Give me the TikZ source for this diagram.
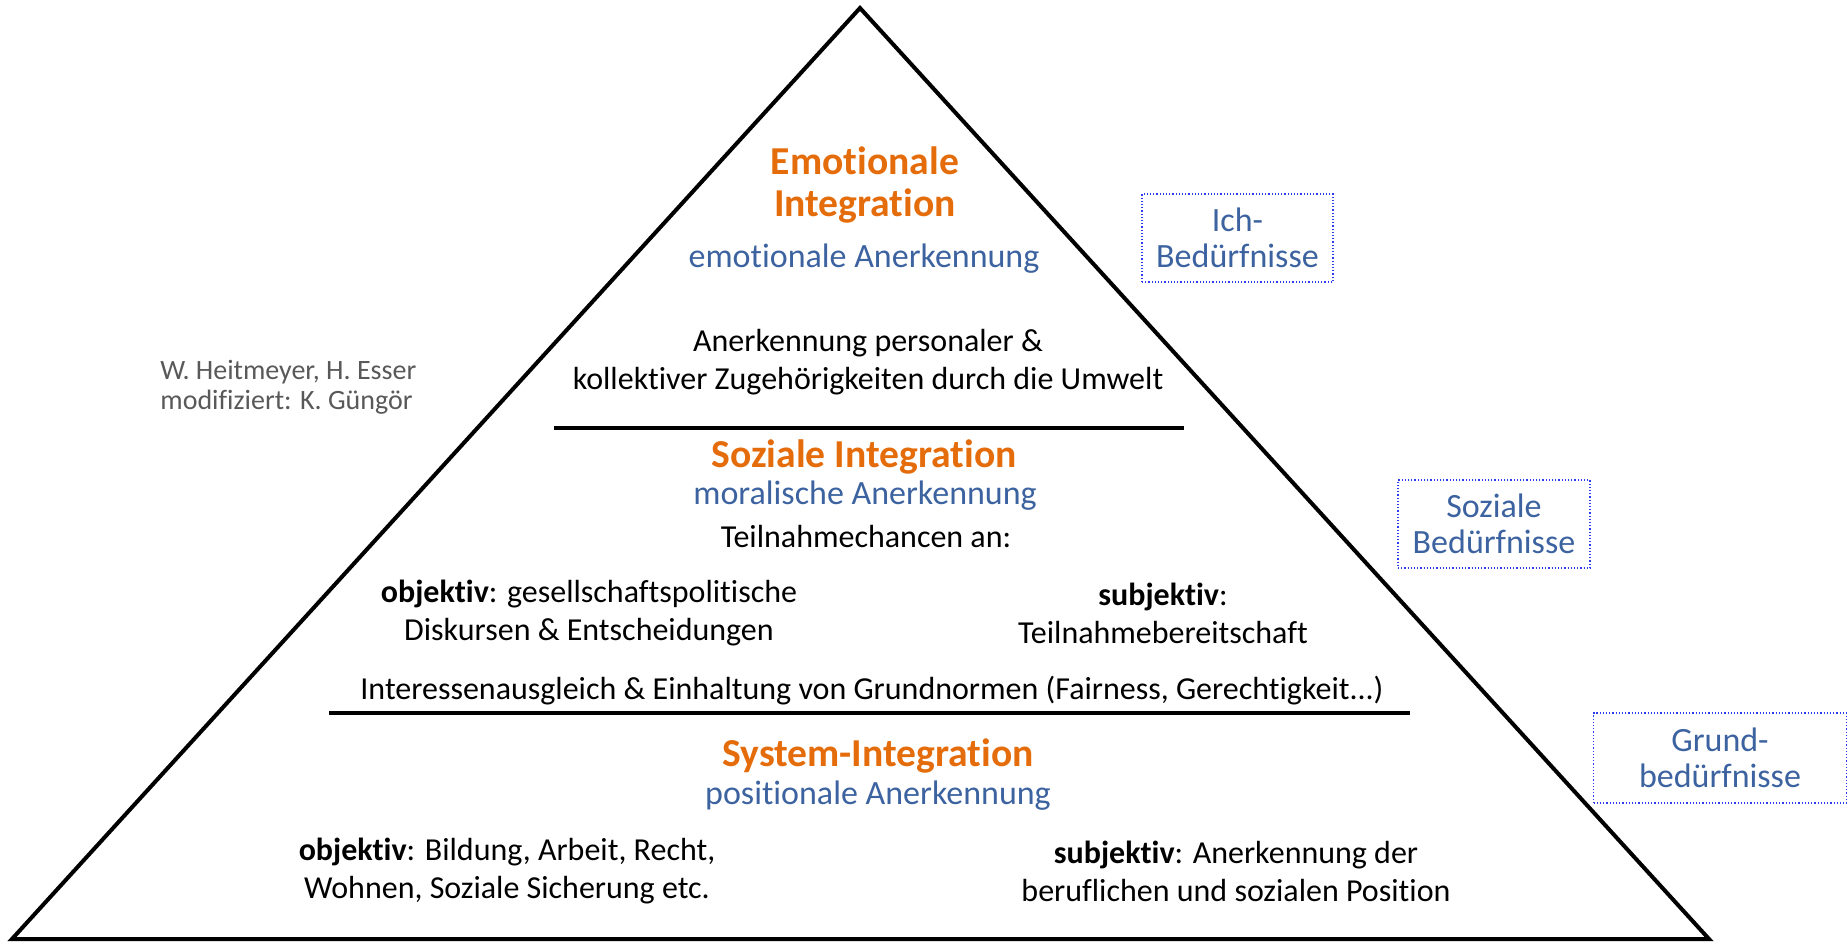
\documentclass[tikz,border=0pt]{standalone}
\usepackage{fontspec}
\setmainfont{Carlito}[Ligatures={NoCommon}]
\definecolor{titleorange}{HTML}{E46C0A}
\definecolor{subblue}{HTML}{3C63A0}
\definecolor{creditgray}{HTML}{595959}
\definecolor{boxblue}{HTML}{2B3BF0}
\begin{document}
\begin{tikzpicture}[x=0.5pt,y=-0.5pt,
  title/.style={font=\fontsize{19.8}{21.2}\selectfont\bfseries, text=titleorange, align=center, inner sep=0pt},
  subtitle/.style={font=\fontsize{17}{19}\selectfont, text=subblue, align=center, inner sep=0pt},
  body/.style={font=\fontsize{16}{18.9}\selectfont, text=black, align=center, inner sep=0pt},
  credit/.style={font=\fontsize{14}{14.8}\selectfont, text=creditgray, align=left, inner sep=0pt},
  needbox/.style={draw=boxblue, densely dotted, line width=0.6pt, text=subblue,
    font=\fontsize{17}{17.7}\selectfont, align=center, inner sep=0pt},
  divider/.style={line width=2.4pt},
  pyramid/.style={line width=2pt, line join=miter}]
\useasboundingbox (0,0) rectangle (1848,944);

% pyramid outline
\coordinate (apex) at (860,8);
\coordinate (bl) at (12,939);
\coordinate (br) at (1709,939);
\draw[pyramid] (apex) -- (br) -- (bl) -- cycle;

% level dividers
\coordinate (d1a) at (554,428);
\coordinate (d1b) at (1184,428);
\coordinate (d2a) at (329,713);
\coordinate (d2b) at (1410,713);
\draw[divider] (d1a) -- (d1b);
\draw[divider] (d2a) -- (d2b);

% top level
\node[title] (emo) at (865,185) {Emotionale\\Integration};
\node[subtitle] (emoA) at (864,259) {emotionale Anerkennung};
\node[body] (emoT) at (868,362) {Anerkennung personaler \&\\kollektiver Zugehörigkeiten durch die Umwelt};

% middle level
\node[title] (soz) at (864,457) {Soziale Integration};
\node[subtitle] (sozA) at (865,496) {moralische Anerkennung};
\node[body] (sozT) at (866,537) {Teilnahmechancen an:};
\node[body] (sozO) at (589,613) {\textbf{objektiv}: gesellschaftspolitische\\Diskursen \& Entscheidungen};
\node[body] (sozS) at (1163,613) {\textbf{subjektiv}:\\Teilnahmebereitschaft};
\node[body] (sozI) at (872,691) {Interessenausgleich \& Einhaltung von Grundnormen (Fairness, Gerechtigkeit...)};

% bottom level
\node[title] (sys) at (878,756) {System-Integration};
\node[subtitle] (sysA) at (878,796) {positionale Anerkennung};
\node[body] (sysO) at (507,871) {\textbf{objektiv}: Bildung, Arbeit, Recht,\\Wohnen, Soziale Sicherung etc.};
\node[body] (sysS) at (1236,871) {\textbf{subjektiv}: Anerkennung der\\beruflichen und sozialen Position};

% credits
\node[credit, anchor=west] (cred) at (160,387) {W. Heitmeyer, H. Esser\\modifiziert: K. Güngör};

% need categories (sizes in pt, half the pixel size)
\node[needbox, minimum width=95.5pt, minimum height=44pt] (ich) at (1237.5,238) {Ich-\\Bedürfnisse};
\node[needbox, minimum width=96pt, minimum height=44pt] (sozB) at (1494,524) {Soziale\\Bedürfnisse};
\node[needbox, minimum width=126.5pt, minimum height=45pt] (grund) at (1720,758) {Grund-\\bedürfnisse};
\end{tikzpicture}
\end{document}
